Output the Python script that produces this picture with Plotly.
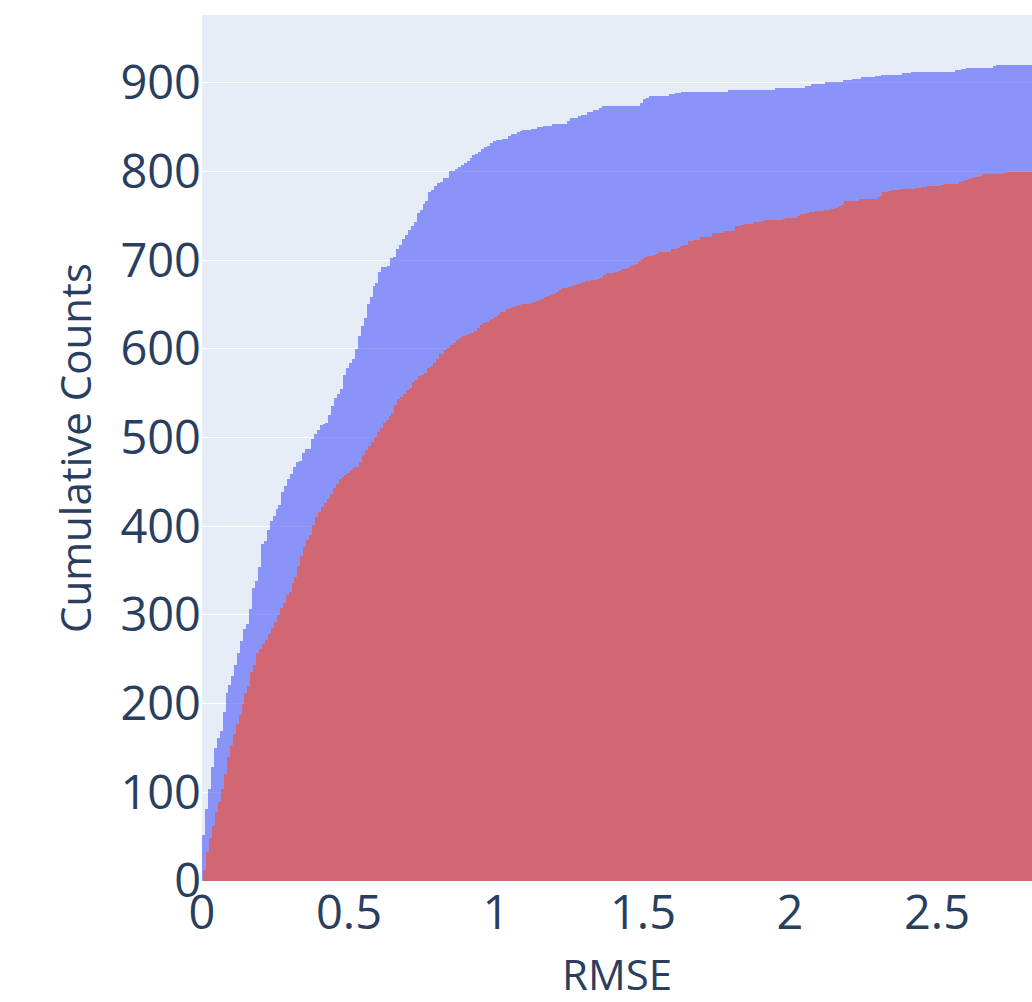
import plotly.graph_objects as go

# Cumulative counts per RMSE bin (bin width 0.01)
BIN_SIZE = 0.01
BLUE_START = 0.0
RED_START = 0.0045

blue_cum = [
    52, 81, 104, 129, 150, 161, 169, 191, 212, 221,
    231, 243, 257, 271, 284, 290, 307, 330, 338, 354,
    380, 383, 396, 406, 411, 419, 424, 439, 445, 453,
    459, 467, 472, 473, 483, 487, 487, 498, 504, 508,
    514, 515, 516, 525, 535, 544, 549, 555, 570, 578,
    584, 589, 600, 614, 626, 635, 650, 658, 671, 674,
    687, 692, 692, 693, 702, 704, 713, 717, 724, 728,
    734, 738, 743, 753, 756, 763, 767, 777, 779, 783,
    787, 788, 792, 793, 800, 801, 803, 805, 807, 810,
    812, 815, 818, 820, 822, 825, 827, 829, 832, 834,
    835, 835, 837, 837, 840, 842, 842, 844, 846, 847,
    847, 847, 848, 848, 850, 850, 851, 851, 851, 853,
    853, 853, 853, 853, 857, 860, 860, 860, 863, 864,
    864, 867, 867, 869, 869, 872, 874, 874, 874, 874,
    874, 874, 874, 874, 874, 874, 874, 874, 874, 877,
    882, 883, 885, 885, 885, 885, 885, 885, 885, 887,
    887, 888, 888, 890, 890, 890, 890, 890, 890, 890,
    890, 890, 890, 890, 890, 890, 890, 890, 890, 892,
    892, 892, 892, 892, 892, 892, 892, 892, 892, 892,
    892, 892, 892, 892, 892, 894, 894, 894, 894, 894,
    894, 894, 894, 894, 894, 896, 896, 898, 898, 898,
    899, 899, 901, 901, 901, 901, 901, 901, 903, 903,
    903, 904, 904, 904, 906, 906, 906, 906, 906, 908,
    908, 909, 909, 909, 909, 909, 909, 909, 911, 911,
    911, 912, 912, 912, 912, 912, 912, 912, 912, 912,
    912, 912, 912, 912, 912, 912, 914, 914, 915, 915,
    917, 917, 917, 917, 917, 917, 917, 917, 917, 919,
    920, 920, 920, 920, 920, 920, 920, 920, 920, 920,
    920, 920, 920,
]

red_cum = [
    12, 33, 48, 62, 78, 89, 104, 121, 140, 153,
    166, 177, 187, 200, 212, 220, 236, 243, 257, 262,
    267, 272, 279, 285, 292, 300, 308, 313, 322, 326,
    336, 343, 355, 366, 376, 384, 390, 401, 410, 416,
    422, 426, 431, 436, 443, 448, 453, 455, 458, 460,
    463, 467, 467, 472, 480, 486, 490, 495, 501, 506,
    511, 516, 520, 524, 528, 537, 543, 546, 549, 553,
    556, 562, 565, 569, 571, 573, 578, 581, 584, 589,
    594, 594, 599, 601, 604, 607, 610, 612, 614, 616,
    617, 618, 620, 623, 627, 629, 630, 632, 634, 636,
    638, 641, 642, 645, 646, 647, 648, 649, 650, 650,
    651, 652, 653, 654, 655, 656, 658, 660, 661, 662,
    664, 666, 669, 669, 670, 671, 672, 673, 674, 675,
    676, 676, 677, 678, 679, 680, 683, 685, 685, 686,
    687, 688, 690, 690, 691, 693, 695, 696, 699, 701,
    703, 705, 705, 706, 707, 709, 709, 709, 709, 713,
    713, 714, 716, 717, 717, 721, 722, 723, 723, 726,
    726, 726, 726, 730, 730, 730, 730, 733, 733, 733,
    733, 738, 738, 739, 741, 741, 741, 743, 743, 743,
    744, 745, 745, 745, 745, 745, 745, 746, 748, 748,
    748, 748, 750, 752, 752, 753, 754, 754, 755, 755,
    755, 756, 756, 758, 758, 759, 761, 762, 767, 767,
    767, 767, 767, 769, 769, 769, 769, 769, 769, 771,
    772, 777, 777, 778, 779, 779, 779, 780, 780, 780,
    780, 780, 781, 781, 782, 782, 784, 784, 784, 784,
    784, 785, 786, 786, 786, 786, 786, 788, 789, 790,
    791, 792, 794, 794, 795, 797, 797, 797, 797, 797,
    797, 797, 798, 799, 799, 799, 799, 799, 799, 799,
    799, 799,
]

x_ticks = [0, 0.5, 1, 1.5, 2, 2.5]
x_ticktext = ["0", "0.5", "1", "1.5", "2", "2.5"]
y_ticks = [0, 100, 200, 300, 400, 500, 600, 700, 800, 900]

blue_x = [BLUE_START + BIN_SIZE * (i + 0.5) for i in range(len(blue_cum))]
red_x = [RED_START + BIN_SIZE * (i + 0.5) for i in range(len(red_cum))]

fig = go.Figure()
fig.add_trace(go.Bar(x=blue_x, y=blue_cum, width=BIN_SIZE, name="blue",
                     marker=dict(color="#636efa", line=dict(width=0)), opacity=0.7))
fig.add_trace(go.Bar(x=red_x, y=red_cum, width=BIN_SIZE, name="red",
                     marker=dict(color="#EF553B", line=dict(width=0)), opacity=0.7))

TICK_FONT = dict(family="Open Sans, verdana, arial, sans-serif", size=47, color="#2a3f5f")
TITLE_FONT = dict(family="Open Sans, verdana, arial, sans-serif", size=42, color="#2a3f5f")

fig.update_layout(
    template="plotly",
    barmode="overlay",
    bargap=0,
    showlegend=False,
    width=1032,
    height=1002,
    margin=dict(l=202, r=0, t=15, b=121),
    font=TITLE_FONT,
    xaxis=dict(title=dict(text="RMSE", font=TITLE_FONT, standoff=28), range=[0, 2.823],
               tickvals=x_ticks, ticktext=x_ticktext, tickfont=TICK_FONT,
               showgrid=False, zeroline=False),
    yaxis=dict(title=dict(text="Cumulative Counts", font=TITLE_FONT), range=[0, 976.3],
               tickvals=y_ticks, tickfont=TICK_FONT, zeroline=False),
)

fig.write_html(
    "out.html",
    config={"displayModeBar": False},
    post_script="document.body.style.margin='0';document.body.style.overflow='hidden';",
)
